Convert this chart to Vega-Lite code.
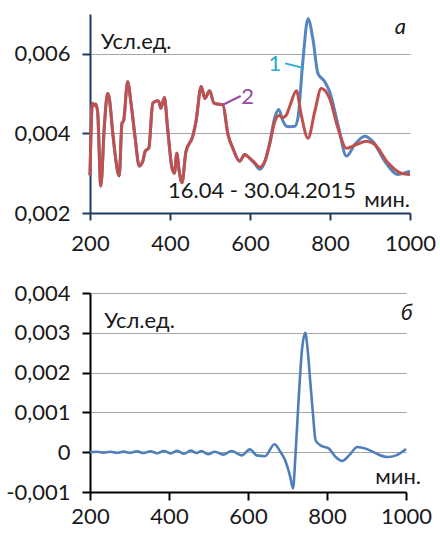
{
  "$schema": "https://vega.github.io/schema/vega-lite/v6.json",
  "background": "white",
  "padding": {"left": 5, "top": 12, "right": 8, "bottom": 2},
  "spacing": 28,
  "config": {
    "view": {"stroke": null},
    "font": "Lato",
    "axis": {"labelFont": "Lato", "labelFontSize": 22, "labelColor": "#1a1a1a", "title": null, "gridColor": "#a6a6a6", "gridWidth": 1}
  },
  "vconcat": [
    {
      "width": 320,
      "height": 199,
      "encoding": {
        "x": {"field": "x", "type": "quantitative", "scale": {"domain": [200, 1000]},
          "axis": {"values": [200, 400, 600, 800, 1000], "format": "d", "grid": false, "domainColor": "#1f3a60", "domainWidth": 2, "tickColor": "#1f3a60", "tickWidth": 2, "tickSize": 7, "labelPadding": 13, "labelFlush": false}},
        "y": {"field": "y", "type": "quantitative", "scale": {"domain": [0.002, 0.007], "nice": false, "zero": false},
          "axis": {"values": [0.002, 0.004, 0.006], "grid": true, "domainColor": "#1f3a60", "domainWidth": 2, "tickColor": "#1f3a60", "tickWidth": 2, "tickSize": 8, "labelPadding": 12,
            "labelExpr": "replace(format(datum.value, '.3f'), '.', ',')"}}
      },
      "layer": [
        {
          "data": {"values": [
            {"x": 200, "y": 0.00295}, {"x": 206, "y": 0.00476}, {"x": 211, "y": 0.0047}, {"x": 214, "y": 0.00474}, {"x": 219, "y": 0.00455},
            {"x": 227, "y": 0.00268}, {"x": 236, "y": 0.0042}, {"x": 244, "y": 0.005}, {"x": 248, "y": 0.0049}, {"x": 257, "y": 0.004},
            {"x": 265, "y": 0.0033}, {"x": 273, "y": 0.00293}, {"x": 280, "y": 0.00426}, {"x": 284, "y": 0.00432}, {"x": 294, "y": 0.0053},
            {"x": 302, "y": 0.0048}, {"x": 313, "y": 0.00388}, {"x": 323, "y": 0.00318}, {"x": 332, "y": 0.0033}, {"x": 338, "y": 0.00355},
            {"x": 347, "y": 0.00363}, {"x": 357, "y": 0.00476}, {"x": 369, "y": 0.00482}, {"x": 373, "y": 0.00478}, {"x": 377, "y": 0.00463},
            {"x": 386, "y": 0.0049}, {"x": 394, "y": 0.00413}, {"x": 405, "y": 0.00313}, {"x": 411, "y": 0.003}, {"x": 417, "y": 0.0035},
            {"x": 423, "y": 0.00305}, {"x": 430, "y": 0.00276}, {"x": 440, "y": 0.00355}, {"x": 457, "y": 0.00393}, {"x": 465, "y": 0.0043},
            {"x": 478, "y": 0.00518}, {"x": 487, "y": 0.00488}, {"x": 499, "y": 0.00507}, {"x": 510, "y": 0.00476}, {"x": 524, "y": 0.00473},
            {"x": 532, "y": 0.00472}, {"x": 545, "y": 0.00397}, {"x": 557, "y": 0.00363}, {"x": 574, "y": 0.0033}, {"x": 587, "y": 0.00347},
            {"x": 599, "y": 0.00338}, {"x": 612, "y": 0.00324}, {"x": 624, "y": 0.0031}, {"x": 637, "y": 0.00328}, {"x": 649, "y": 0.00375},
            {"x": 662, "y": 0.0044}, {"x": 672, "y": 0.0046}, {"x": 682, "y": 0.00432}, {"x": 691, "y": 0.00418}, {"x": 700, "y": 0.00417},
            {"x": 712, "y": 0.00418}, {"x": 720, "y": 0.0044}, {"x": 732, "y": 0.0058}, {"x": 745, "y": 0.00688}, {"x": 757, "y": 0.00639},
            {"x": 770, "y": 0.0055}, {"x": 787, "y": 0.0053}, {"x": 799, "y": 0.00505}, {"x": 820, "y": 0.00422}, {"x": 841, "y": 0.00343},
            {"x": 862, "y": 0.00372}, {"x": 887, "y": 0.00393}, {"x": 907, "y": 0.0038}, {"x": 937, "y": 0.0033}, {"x": 970, "y": 0.00297},
            {"x": 1000, "y": 0.00305}
          ]},
          "mark": {"type": "line", "interpolate": "monotone", "strokeWidth": 3, "color": "#5585c0"}
        },
        {
          "data": {"values": [
            {"x": 200, "y": 0.00295}, {"x": 206, "y": 0.00476}, {"x": 211, "y": 0.0047}, {"x": 214, "y": 0.00474}, {"x": 219, "y": 0.00455},
            {"x": 227, "y": 0.00268}, {"x": 236, "y": 0.0042}, {"x": 244, "y": 0.005}, {"x": 248, "y": 0.0049}, {"x": 257, "y": 0.004},
            {"x": 265, "y": 0.0033}, {"x": 273, "y": 0.00293}, {"x": 280, "y": 0.00426}, {"x": 284, "y": 0.00432}, {"x": 294, "y": 0.0053},
            {"x": 302, "y": 0.0048}, {"x": 313, "y": 0.00388}, {"x": 323, "y": 0.00318}, {"x": 332, "y": 0.0033}, {"x": 338, "y": 0.00355},
            {"x": 347, "y": 0.00363}, {"x": 357, "y": 0.00476}, {"x": 369, "y": 0.00482}, {"x": 373, "y": 0.00478}, {"x": 377, "y": 0.00463},
            {"x": 386, "y": 0.0049}, {"x": 394, "y": 0.00413}, {"x": 405, "y": 0.00313}, {"x": 411, "y": 0.003}, {"x": 417, "y": 0.0035},
            {"x": 423, "y": 0.00305}, {"x": 430, "y": 0.00276}, {"x": 440, "y": 0.00355}, {"x": 457, "y": 0.00393}, {"x": 465, "y": 0.0043},
            {"x": 478, "y": 0.00518}, {"x": 487, "y": 0.00488}, {"x": 499, "y": 0.00507}, {"x": 510, "y": 0.00476}, {"x": 524, "y": 0.00473},
            {"x": 532, "y": 0.00472}, {"x": 545, "y": 0.00397}, {"x": 557, "y": 0.00363}, {"x": 574, "y": 0.0033}, {"x": 587, "y": 0.00347},
            {"x": 599, "y": 0.00338}, {"x": 612, "y": 0.00326}, {"x": 624, "y": 0.00315}, {"x": 637, "y": 0.0033}, {"x": 649, "y": 0.00372},
            {"x": 662, "y": 0.0043}, {"x": 672, "y": 0.00445}, {"x": 682, "y": 0.0044}, {"x": 690, "y": 0.00445}, {"x": 700, "y": 0.0047},
            {"x": 716, "y": 0.00507}, {"x": 728, "y": 0.00447}, {"x": 745, "y": 0.00388}, {"x": 762, "y": 0.00455}, {"x": 778, "y": 0.00513},
            {"x": 799, "y": 0.00488}, {"x": 820, "y": 0.00413}, {"x": 841, "y": 0.00363}, {"x": 866, "y": 0.00372}, {"x": 891, "y": 0.0038},
            {"x": 912, "y": 0.00372}, {"x": 945, "y": 0.00326}, {"x": 978, "y": 0.003}, {"x": 1000, "y": 0.00297}
          ]},
          "mark": {"type": "line", "interpolate": "monotone", "strokeWidth": 3, "color": "#c0504d"}
        },
        {
          "data": {"values": [
            {"x": 688, "y": 0.00576, "x2": 735, "y2": 0.00564, "c": "1"},
            {"x": 532.5, "y": 0.00472, "x2": 576.7, "y2": 0.00494, "c": "2"}
          ]},
          "mark": {"type": "rule", "strokeWidth": 2},
          "encoding": {
            "x2": {"field": "x2"}, "y2": {"field": "y2"},
            "color": {"field": "c", "type": "nominal", "scale": {"domain": ["1", "2"], "range": ["#2aa8d4", "#9a4aa3"]}, "legend": null}
          }
        },
        {
          "data": {"values": [
            {"x": 646, "y": 0.00558, "t": "1", "c": "1"},
            {"x": 578, "y": 0.00473, "t": "2", "c": "2"}
          ]},
          "mark": {"type": "text", "align": "left", "baseline": "alphabetic", "fontSize": 22, "font": "Lato"},
          "encoding": {
            "text": {"field": "t"},
            "color": {"field": "c", "type": "nominal", "scale": {"domain": ["1", "2"], "range": ["#2aa8d4", "#9a4aa3"]}, "legend": null}
          }
        },
        {
          "data": {"values": [
            {"x": 227, "y": 0.00612, "t": "Усл.ед."},
            {"x": 395, "y": 0.00237, "t": "16.04 - 30.04.2015"}
          ]},
          "mark": {"type": "text", "align": "left", "baseline": "alphabetic", "fontSize": 22, "font": "Lato", "color": "#1a1a1a"},
          "encoding": {"text": {"field": "t"}}
        },
        {
          "data": {"values": [{"x": 1000, "y": 0.00215, "t": "мин."}]},
          "mark": {"type": "text", "align": "right", "baseline": "alphabetic", "fontSize": 22, "font": "Lato", "color": "#1a1a1a"},
          "encoding": {"text": {"field": "t"}}
        },
        {
          "data": {"values": [{"x": 962, "y": 0.0065, "t": "а"}]},
          "mark": {"type": "text", "align": "left", "baseline": "alphabetic", "fontSize": 22, "font": "Lato", "fontStyle": "italic", "color": "#1a1a1a"},
          "encoding": {"text": {"field": "t"}}
        }
      ]
    },
    {
      "width": 316,
      "height": 199,
      "encoding": {
        "x": {"field": "x", "type": "quantitative", "scale": {"domain": [200, 1000]},
          "axis": {"values": [200, 400, 600, 800, 1000], "format": "d", "grid": false, "domainColor": "#000000", "domainWidth": 2, "tickColor": "#000000", "tickWidth": 2, "tickSize": 8, "labelPadding": 6, "labelFlush": false}},
        "y": {"field": "y", "type": "quantitative", "scale": {"domain": [-0.001, 0.004], "nice": false, "zero": false},
          "axis": {"values": [-0.001, 0, 0.001, 0.002, 0.003, 0.004], "grid": true, "domainColor": "#000000", "domainWidth": 2, "tickColor": "#000000", "tickWidth": 2, "tickSize": 8, "labelPadding": 12,
            "labelExpr": "datum.value == 0 ? '0' : replace(replace(format(datum.value, '.3f'), '.', ','), '\u2212', '-')"}}
      },
      "layer": [
        {
          "data": {"values": [
            {"x": 200, "y": 0}, {"x": 217, "y": 0.00001}, {"x": 234, "y": -0.00001}, {"x": 251, "y": 0.000012}, {"x": 268, "y": -0.000012},
            {"x": 285, "y": 0.000015}, {"x": 302, "y": -0.000015}, {"x": 319, "y": 0.00002}, {"x": 336, "y": -0.00002}, {"x": 353, "y": 0.000025},
            {"x": 370, "y": -0.000025}, {"x": 387, "y": 0.00003}, {"x": 404, "y": -0.00003}, {"x": 421, "y": 0.000035}, {"x": 438, "y": -0.00004},
            {"x": 455, "y": 0.00004}, {"x": 470, "y": -0.00002}, {"x": 482, "y": 0.00003}, {"x": 499, "y": -0.00005}, {"x": 516, "y": 0.00001},
            {"x": 537, "y": -0.00006}, {"x": 558, "y": 0.00003}, {"x": 584, "y": -0.00008}, {"x": 605, "y": 0.00007}, {"x": 622, "y": -0.00008},
            {"x": 643, "y": -0.0001}, {"x": 667, "y": 0.0002}, {"x": 682, "y": 0.00001}, {"x": 694, "y": -0.0002}, {"x": 707, "y": -0.00062},
            {"x": 714, "y": -0.00091}, {"x": 720, "y": -0.0001}, {"x": 728, "y": 0.0013}, {"x": 737, "y": 0.0026}, {"x": 745, "y": 0.003},
            {"x": 751, "y": 0.00257}, {"x": 758, "y": 0.00173}, {"x": 765, "y": 0.0009}, {"x": 771, "y": 0.0003}, {"x": 783, "y": 0.000175},
            {"x": 805, "y": 0.00009}, {"x": 822, "y": -0.00012}, {"x": 839, "y": -0.00022}, {"x": 856, "y": -0.00008}, {"x": 877, "y": 0.00013},
            {"x": 898, "y": 0.00009}, {"x": 924, "y": -0.00003}, {"x": 953, "y": -0.00012}, {"x": 975, "y": -0.00008}, {"x": 1000, "y": 0.00008}
          ]},
          "mark": {"type": "line", "interpolate": "monotone", "strokeWidth": 2.6, "color": "#4f7fbb"}
        },
        {
          "data": {"values": [{"x": 236, "y": 0.00311, "t": "Усл.ед."}]},
          "mark": {"type": "text", "align": "left", "baseline": "alphabetic", "fontSize": 22, "font": "Lato", "color": "#1a1a1a"},
          "encoding": {"text": {"field": "t"}}
        },
        {
          "data": {"values": [{"x": 1000, "y": -0.00079, "t": "мин."}]},
          "mark": {"type": "text", "align": "right", "baseline": "alphabetic", "fontSize": 22, "font": "Lato", "color": "#1a1a1a", "dx": 15},
          "encoding": {"text": {"field": "t"}}
        },
        {
          "data": {"values": [{"x": 987, "y": 0.00332, "t": "б"}]},
          "mark": {"type": "text", "align": "left", "baseline": "alphabetic", "fontSize": 22, "font": "Lato", "fontStyle": "italic", "color": "#1a1a1a"},
          "encoding": {"text": {"field": "t"}}
        }
      ]
    }
  ]
}
